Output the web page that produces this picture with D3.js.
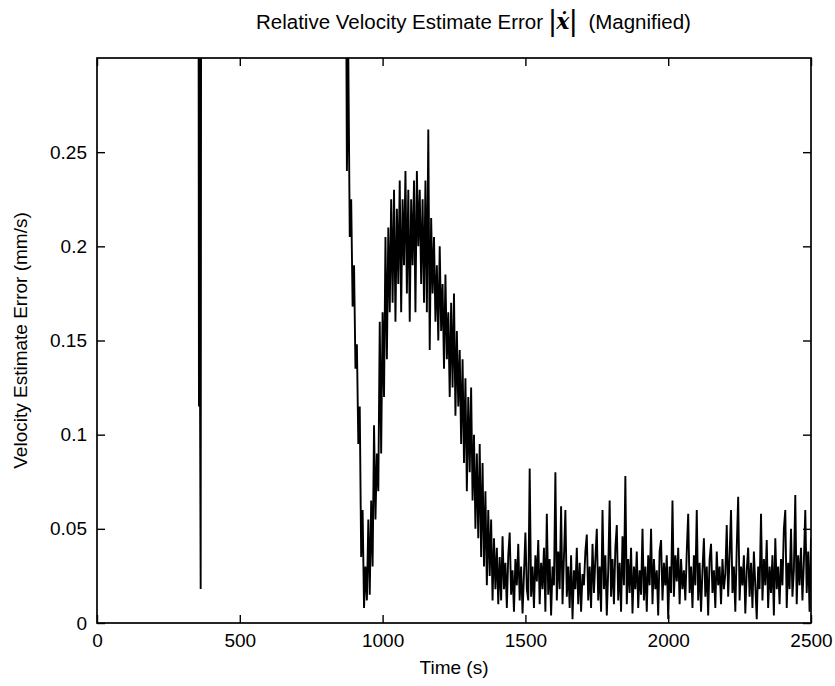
<!DOCTYPE html>
<html>
<head>
<meta charset="utf-8">
<script src="https://cdn.jsdelivr.net/npm/d3@7"></script>
<style>
  body { margin: 0; background: #fff; }
  svg text { font-family: "Liberation Sans", Arial, sans-serif; fill: #000; }
</style>
</head>
<body>
<div class="chart"></div>
<script>
// early part: error sits above the plotted range except one dip near 360 s
const spikeTime = [0, 355, 357, 359, 361, 363, 365, 865];
const spikeError = [0.45, 0.45, 0.115, 0.42, 0.11, 0.018, 0.44, 0.44];

// main record from 870 s to 2500 s, one value every 5 s
const recordStart = 870;
const recordStep = 5;
const recordError = [
  .42, .24, .30, .205, .225, .168, .19, .135, .148, .095,
  .115, .035, .06, .008, .03, .012, .055, .015, .065, .03,
  .105, .055, .09, .07, .16, .09, .165, .12, .205, .14,
  .21, .165, .225, .17, .23, .16, .22, .18, .235, .165,
  .225, .19, .24, .175, .23, .16, .225, .19, .235, .165,
  .24, .2, .23, .18, .225, .17, .235, .165, .262, .145,
  .215, .175, .205, .16, .19, .15, .2, .155, .18, .135,
  .185, .14, .165, .12, .17, .125, .175, .11, .155, .115,
  .145, .095, .14, .085, .13, .07, .12, .08, .125, .065,
  .1, .05, .09, .045, .095, .035, .085, .03, .07, .02,
  .06, .025, .055, .012, .045, .018, .04, .01,
  .035, .012, .046, .018, .032, .008, .036, .048, .015, .028,
  .006, .034, .02, .042, .012, .03, .005, .026, .048, .018,
  .012, .082, .014, .03, .008, .036, .022, .044, .01, .032,
  .018, .04, .006, .058, .015, .034, .004, .03, .02, .08,
  .012, .038, .018, .062, .01, .035, .06, .014, .03, .008,
  .036, .002, .028, .018, .04, .01, .032, .006, .026, .02,
  .038, .047, .012, .03, .008, .042, .016, .034, .05, .012,
  .03, .006, .06, .018, .036, .004, .028, .065, .014, .034,
  .01, .04, .052, .012, .032, .006, .046, .02, .078, .01,
  .034, .016, .04, .005, .03, .018, .038, .008, .028, .015,
  .05, .012, .03, .006, .036, .02, .05, .01, .034, .018,
  .028, .004, .038, .044, .012, .032, .02, .036, .002, .03,
  .016, .065, .014, .036, .022, .04, .01, .034, .018, .028,
  .012, .038, .058, .016, .03, .008, .036, .02, .06, .012,
  .032, .006, .028, .045, .014, .03, .004, .034, .042, .016,
  .028, .008, .038, .02, .03, .01, .034, .018, .026, .052,
  .014, .036, .06, .016, .03, .006, .04, .067, .012, .03,
  .02, .036, .005, .028, .04, .014, .032, .008, .038, .02,
  .002, .03, .018, .058, .012, .034, .02, .044, .008, .03,
  .016, .036, .004, .045, .018, .03, .01, .034, .02, .05,
  .06, .008, .032, .018, .05, .014, .028, .068, .01, .036,
  .02, .04, .012, .032, .06, .016, .038, .006, .045
];

const xTicks = [0, 500, 1000, 1500, 2000, 2500];
const yTicks = [0, 0.05, 0.1, 0.15, 0.2, 0.25];

const width = 835, height = 686;
const margin = { top: 58, right: 24, bottom: 63, left: 97 };

const svg = d3.select('.chart').append('svg')
    .attr('width', width)
    .attr('height', height);

const x = d3.scaleLinear().domain([0, 2500]).range([margin.left, width - margin.right]);
const y = d3.scaleLinear().domain([0, 0.3]).range([height - margin.bottom, margin.top]);

// points for the line
const points = spikeTime.map((t, i) => [t, spikeError[i]])
    .concat(recordError.map((v, i) => [recordStart + i * recordStep, v]));

svg.append('clipPath').attr('id', 'plot-clip')
  .append('rect')
    .attr('x', x(0)).attr('y', y(0.3))
    .attr('width', x(2500) - x(0)).attr('height', y(0) - y(0.3));

svg.append('path')
    .datum(points)
    .attr('clip-path', 'url(#plot-clip)')
    .attr('fill', 'none')
    .attr('stroke', '#000')
    .attr('stroke-width', 1.9)
    .attr('stroke-linejoin', 'miter')
    .attr('d', d3.line().x(d => x(d[0])).y(d => y(d[1])));

const fmt = d => String(+d.toFixed(2));

// axes, ticks pointing inside like matlab
const bottom = svg.append('g')
    .attr('transform', `translate(0,${y(0)})`)
    .call(d3.axisBottom(x).tickValues(xTicks).tickSizeInner(-8).tickSizeOuter(0).tickPadding(10).tickFormat(d3.format('d')));
const left = svg.append('g')
    .attr('transform', `translate(${x(0)},0)`)
    .call(d3.axisLeft(y).tickValues(yTicks).tickSizeInner(-8).tickSizeOuter(0).tickPadding(10).tickFormat(fmt));
svg.append('g')
    .attr('transform', `translate(0,${y(0.3)})`)
    .call(d3.axisTop(x).tickValues(xTicks).tickSizeInner(-8).tickSizeOuter(0).tickFormat(''));
svg.append('g')
    .attr('transform', `translate(${x(2500)},0)`)
    .call(d3.axisRight(y).tickValues(yTicks).tickSizeInner(-8).tickSizeOuter(0).tickFormat(''));

svg.selectAll('.domain').remove();
svg.selectAll('.tick line').attr('stroke', '#000').attr('stroke-width', 1.4);
svg.selectAll('.tick text').style('font-size', '19px').attr('fill', '#000');
bottom.selectAll('.tick text').attr('dy', '0.75em');

svg.append('rect')
    .attr('x', x(0)).attr('y', y(0.3))
    .attr('width', x(2500) - x(0)).attr('height', y(0) - y(0.3))
    .attr('fill', 'none').attr('stroke', '#000').attr('stroke-width', 1.7);

// title with the |x-dot| symbol
const title = svg.append('text')
    .attr('x', 256).attr('y', 29)
    .style('font-size', '20.5px');
title.append('tspan').text('Relative Velocity Estimate Error ');
title.append('tspan').text('|').style('font-size', '29px').attr('dy', 2);
title.append('tspan').text('ẋ')
    .style('font-family', '"DejaVu Serif", serif')
    .style('font-weight', 'bold').style('font-style', 'italic')
    .style('font-size', '22px').attr('dy', -2);
title.append('tspan').text('|').style('font-size', '29px').attr('dy', 2);
title.append('tspan').text('  (Magnified)').attr('dy', -2).attr('xml:space', 'preserve');

svg.append('text')
    .attr('x', (x(0) + x(2500)) / 2).attr('y', 674)
    .attr('text-anchor', 'middle')
    .style('font-size', '19px')
    .text('Time (s)');

svg.append('text')
    .attr('transform', `translate(27,${(y(0) + y(0.3)) / 2}) rotate(-90)`)
    .attr('text-anchor', 'middle')
    .style('font-size', '19px')
    .text('Velocity Estimate Error (mm/s)');
</script>
</body>
</html>
